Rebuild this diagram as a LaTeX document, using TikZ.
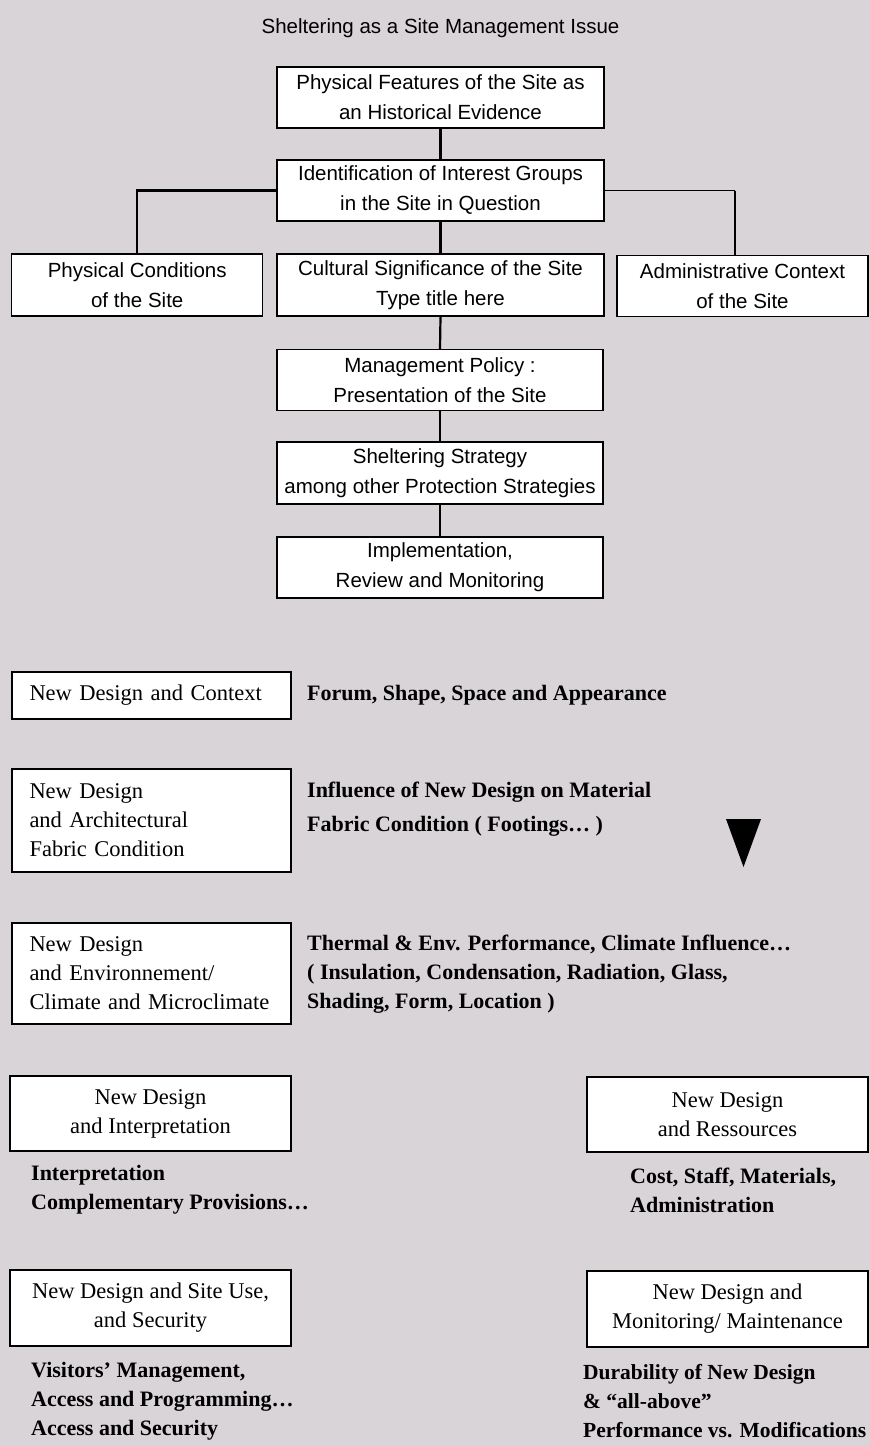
\documentclass[tikz,border=0pt]{standalone}
\usepackage{fontspec}
\setmainfont{Liberation Serif}
\newfontfamily\sansf{Liberation Sans}
\definecolor{bg}{RGB}{217,212,215}
\begin{document}
\begin{tikzpicture}[x=1pt,y=-1pt,
  topbox/.style={draw=black, line width=1.3pt, fill=white, minimum width=327pt, minimum height=61pt,
    align=center, font=\sansf\fontsize{20.5}{30}\selectfont, inner sep=0pt},
  sidebox/.style={topbox, minimum width=251pt},
  leftbox/.style={draw=black, line width=1.3pt, fill=white, minimum width=279pt,
    text width=244pt, inner xsep=17.5pt, inner ysep=0pt, align=left,
    font=\fontsize{22.5}{29}\selectfont},
  cbox/.style={draw=black, line width=1.3pt, fill=white, minimum width=281pt, minimum height=75pt,
    align=center, inner sep=0pt, font=\fontsize{22.5}{29}\selectfont},
  desc/.style={anchor=west, align=left, inner sep=0pt, font=\bfseries\fontsize{22}{29}\selectfont},
  conn/.style={line width=2.2pt},
  thinconn/.style={line width=1pt}]
\useasboundingbox (0,0) rectangle (870,1446);
\fill[bg] (0,0) rectangle (870,1446);

\node[inner sep=0pt, font=\sansf\fontsize{20.5}{24}\selectfont] (title) at (440.5,28) {Sheltering as a Site Management Issue};

\node[topbox] (b1) at (440.5,97.5) {Physical Features of the Site as\\an Historical Evidence};
\node[topbox] (b2) at (440.5,190.5) {Identification of Interest Groups\\in the Site in Question};
\node[sidebox, minimum height=62pt] (b3) at (137.25,285) {Physical Conditions\\of the Site};
\node[topbox, minimum height=62pt] (b4) at (440.5,285) {Cultural Significance of the Site\\Type title here};
\node[sidebox] (b5) at (742.5,286) {Administrative Context\\of the Site};
\node[topbox, minimum width=326pt] (b6) at (440,380) {Management Policy :\\Presentation of the Site};
\node[topbox, minimum width=326pt, minimum height=62pt] (b7) at (440,473) {Sheltering Strategy\\among other Protection Strategies};
\node[topbox, minimum width=326pt] (b8) at (440,567.5) {Implementation,\\Review and Monitoring};

\coordinate (b5top) at (735,255);
\draw[conn] (b1.south) -- (b2.north);
\draw[conn] (b2.south) -- (b4.north);
\draw[conn] (b4.south) -- (b6.north);
\draw[conn] (b6.south) -- (b7.north);
\draw[conn] (b7.south) -- (b8.north);
\draw[conn] (b2.west) -| (b3.north);
\draw[thinconn] (b2.east) -- (b2.east -| b5top);
\draw[conn] (b2.east -| b5top) -- (b5top);

\node[leftbox, minimum height=47pt] (c1) at (151.5,695.5) {New Design and Context};
\node[leftbox, minimum height=103pt] (c2) at (151.5,820.5) {New Design\\and Architectural\\Fabric Condition};
\node[leftbox, minimum height=101pt] (c3) at (151.5,973.5) {New Design\\and Environnement/\\Climate and Microclimate};

\node[desc] (e1) at (307,695) {Forum, Shape, Space and Appearance};
\node[desc, font=\bfseries\fontsize{22}{34}\selectfont] (e2) at (307,809) {Influence of New Design on Material\\Fabric Condition ( Footings\dots\ )};
\node[desc] (e3) at (307,974.5) {Thermal \& Env. Performance, Climate Influence\dots\\( Insulation, Condensation, Radiation, Glass,\\Shading, Form, Location )};

\fill[black] (726,819) -- (761,819) -- (743.5,867) -- cycle;

\node[cbox] (d1) at (150.5,1113.5) {New Design\\and Interpretation};
\node[cbox] (d2) at (727.5,1114.5) {New Design\\and Ressources};
\node[cbox, minimum height=76pt] (d3) at (150.5,1308) {New Design and Site Use,\\and Security};
\node[cbox, minimum height=76pt] (d4) at (727.5,1309) {New Design and\\Monitoring/ Maintenance};

\node[desc] (f1) at (31,1189.5) {Interpretation\\Complementary Provisions\dots};
\node[desc] (f2) at (630,1190.5) {Cost, Staff, Materials,\\Administration};
\node[desc] (f3) at (31,1401.5) {Visitors' Management,\\Access and Programming\dots\\Access and Security};
\node[desc, font=\bfseries\fontsize{21.5}{29}\selectfont] (f4) at (583,1401.5) {Durability of New Design\\\& “all-above”\\Performance vs. Modifications};
\end{tikzpicture}
\end{document}
